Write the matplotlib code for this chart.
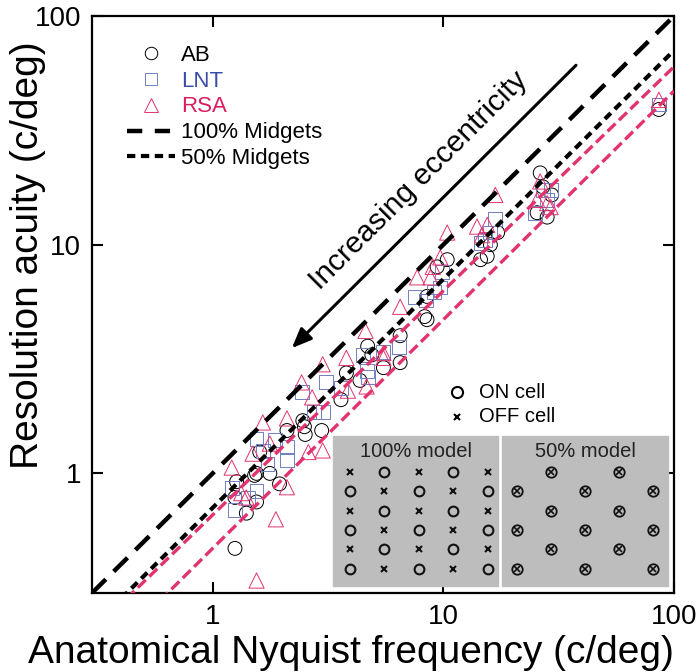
import numpy as np
import matplotlib
matplotlib.use('Agg')
import matplotlib.pyplot as plt
from matplotlib.lines import Line2D
from matplotlib.patches import Rectangle

plt.rcParams['font.family'] = ['Liberation Sans', 'DejaVu Sans']
plt.rcParams['lines.scale_dashes'] = False

# data (c/deg)
ab_x = [1.25, 1.27, 1.25, 1.40, 1.55, 1.52, 1.60, 1.77, 1.55, 1.95, 2.10, 2.46, 2.50, 2.52,
        2.97, 3.60, 3.80, 4.35, 4.70, 5.50, 6.50, 6.50, 4.90, 8.30, 8.50, 8.50, 9.40, 10.4,
        14.5, 15.5, 17.2, 16.0, 26.3, 27.0, 28.2, 25.5, 29.5, 86.0]
ab_y = [0.47, 0.92, 0.785, 0.67, 0.75, 0.98, 1.24, 1.00, 1.00, 0.90, 1.54, 1.70, 1.60, 1.48,
        1.54, 2.10, 2.75, 2.55, 3.60, 2.90, 3.05, 4.00, 3.30, 4.85, 5.94, 4.70, 8.00, 8.60,
        8.60, 8.90, 11.3, 10.0, 20.6, 17.9, 13.2, 13.8, 16.5, 39.0]

lnt_x = [1.21, 1.25, 1.55, 1.42, 1.55, 1.86, 2.10, 2.10, 1.73, 1.65, 2.43, 3.00, 2.75, 3.10,
         3.60, 4.65, 4.70, 4.50, 6.40, 5.50, 7.50, 8.40, 9.70, 9.10, 9.85, 14.5, 16.0, 16.8,
         15.2, 27.0, 29.2, 28.2, 25.0, 86.0]
lnt_y = [0.86, 0.69, 0.84, 0.78, 1.42, 1.40, 1.30, 1.14, 1.10, 1.25, 2.27, 1.85, 1.85, 2.50,
         2.36, 2.80, 2.65, 3.30, 3.57, 3.40, 5.90, 5.70, 6.50, 6.20, 7.60, 10.2, 11.3, 12.9,
         10.5, 17.4, 17.4, 15.7, 13.8, 41.0]

rsa_x = [1.55, 1.88, 1.21, 1.33, 1.40, 1.65, 2.10, 1.49, 1.77, 2.10, 2.43, 2.70, 3.00, 2.60,
         3.00, 3.80, 3.86, 4.60, 5.50, 4.65, 6.50, 5.50, 7.70, 8.80, 10.4, 9.70, 9.00, 16.8,
         14.0, 14.7, 15.5, 25.5, 26.3, 28.2, 29.2, 86.0]
rsa_y = [0.34, 0.63, 1.06, 0.82, 0.785, 1.67, 1.74, 1.22, 1.35, 0.87, 2.50, 2.15, 1.26, 1.24,
         3.00, 3.20, 2.30, 4.20, 3.20, 2.40, 5.35, 3.36, 7.20, 7.20, 11.3, 8.80, 8.00, 16.5,
         12.0, 11.0, 12.2, 15.7, 18.9, 15.2, 14.6, 43.0]

# model lines: y = gain * x**power
model_100 = (1.0, 1.0)
model_50 = (0.707, 1.0)
fit_a = (0.658, 0.98)
fit_b = (0.47, 1.0)

blue = '#6f7fc0'
pink = '#e2336f'

fig = plt.figure(figsize=(6.97, 6.72), dpi=100)
ax = fig.add_axes([0.132, 0.1176, 0.835, 0.8586])
ax.set_xscale('log')
ax.set_yscale('log')
ax.set_xlim(0.3, 100)
ax.set_ylim(0.3, 100)

ax.scatter(ab_x, ab_y, s=100, facecolors='none', edgecolors='black', linewidths=0.7, zorder=3)
ax.scatter(lnt_x, lnt_y, s=100, marker='s', facecolors='none', edgecolors=blue, linewidths=0.7, zorder=3)
ax.scatter(rsa_x, rsa_y, s=120, marker='^', facecolors='none', edgecolors=pink, linewidths=0.7, zorder=3)

xx = np.logspace(np.log10(0.3), 2, 200)
ax.plot(xx, model_100[0] * xx ** model_100[1], color='black', lw=3.2, dashes=(14, 8), zorder=4)
ax.plot(xx, model_50[0] * xx ** model_50[1], color='black', lw=3.0, dashes=(6, 4), zorder=4)
ax.plot(xx, fit_a[0] * xx ** fit_a[1], color=pink, lw=2.4, dashes=(8, 3.5), zorder=5)
ax.plot(xx, fit_b[0] * xx ** fit_b[1], color=pink, lw=2.4, dashes=(8, 3.5), zorder=5)

# arrow + text
ax.annotate('', xy=(0.340, 0.421), xytext=(0.835, 0.918), xycoords='axes fraction',
            arrowprops=dict(arrowstyle='-|>,head_length=1.2,head_width=0.5', color='black', lw=2.2))
ax.text(0.562, 0.715, 'Increasing eccentricity', transform=ax.transAxes, rotation=45,
        fontsize=21.5, ha='center', va='center', rotation_mode='anchor')

# legend
handles = [
    Line2D([], [], ls='none', marker='o', mfc='none', mec='black', ms=9, mew=0.7),
    Line2D([], [], ls='none', marker='s', mfc='none', mec=blue, ms=9, mew=0.7),
    Line2D([], [], ls='none', marker='^', mfc='none', mec=pink, ms=10, mew=0.7),
    Line2D([], [], color='black', lw=3.2, dashes=(11, 9)),
    Line2D([], [], color='black', lw=3.0, dashes=(6, 4)),
]
labels = ['AB', 'LNT', 'RSA', '100% Midgets', '50% Midgets']
ax.legend(handles, labels, loc='upper left', bbox_to_anchor=(0.025, 0.985), frameon=False,
          fontsize=16, handlelength=2.2, handletextpad=0.25, labelspacing=0.22,
          labelcolor=['black', '#3a4ca8', '#d81f5c', 'black', 'black'])

# inset schematic
tr = ax.transAxes
ax.add_patch(Rectangle((0.414, 0.012), 0.284, 0.26, transform=tr, color='#bdbdbd', zorder=6))
ax.add_patch(Rectangle((0.704, 0.012), 0.286, 0.26, transform=tr, color='#bdbdbd', zorder=6))
ax.text(0.556, 0.246, '100% model', transform=tr, ha='center', va='center', fontsize=14.5, color='#222222', zorder=7)
ax.text(0.847, 0.246, '50% model', transform=tr, ha='center', va='center', fontsize=14.5, color='#222222', zorder=7)

cols1 = np.linspace(0.443, 0.680, 5)
cols2 = np.linspace(0.730, 0.964, 5)
rows = np.linspace(0.210, 0.042, 6)
for r, yy in enumerate(rows):
    for c in range(5):
        if (r + c) % 2 == 0:
            ax.plot(cols1[c], yy, 'x', color='#111111', ms=4.5, mew=1.5, transform=tr, zorder=7)
        else:
            ax.plot(cols1[c], yy, 'o', mfc='none', mec='#111111', ms=7, mew=1.5, transform=tr, zorder=7)
            ax.plot(cols2[c], yy, 'o', mfc='none', mec='#111111', ms=7.5, mew=1.3, transform=tr, zorder=7)
            ax.plot(cols2[c], yy, 'x', color='#111111', ms=4, mew=1.2, transform=tr, zorder=7)

ax.plot(0.627, 0.348, 'o', mfc='none', mec='black', ms=8, mew=1.5, transform=tr)
ax.plot(0.627, 0.305, 'x', color='black', ms=5, mew=1.5, transform=tr)
ax.text(0.665, 0.348, 'ON cell', transform=tr, ha='left', va='center', fontsize=14.5)
ax.text(0.665, 0.305, 'OFF cell', transform=tr, ha='left', va='center', fontsize=14.5)

# axes styling
ax.set_xticks([1, 10, 100])
ax.set_xticklabels(['1', '10', '100'])
ax.set_yticks([1, 10, 100])
ax.set_yticklabels(['1', '10', '100'])
ax.minorticks_off()
ax.tick_params(which='major', direction='in', length=8, width=1.5, labelsize=20,
               top=True, right=True, pad=8)
for sp in ax.spines.values():
    sp.set_linewidth(1.6)

ax.set_xlabel('Anatomical Nyquist frequency (c/deg)', fontsize=28)
ax.set_ylabel('Resolution acuity (c/deg)', fontsize=28)
ax.xaxis.set_label_coords(0.445, -0.073)
ax.yaxis.set_label_coords(-0.079, 0.585)

fig.savefig('out.png', dpi=100)
